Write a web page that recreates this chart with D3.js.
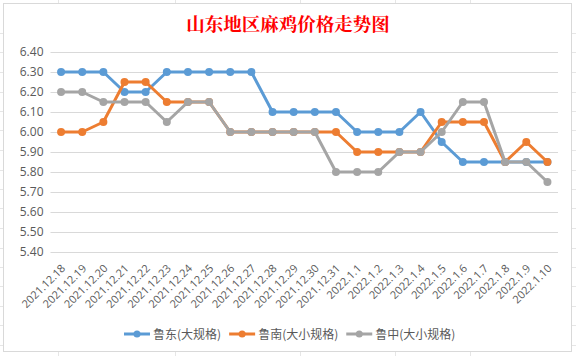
<!DOCTYPE html>
<html><head><meta charset="utf-8">
<script src="https://cdn.jsdelivr.net/npm/d3@7"></script>
<style>body{margin:0;background:#fff}svg{display:block}</style>
</head><body>
<script>
const categories = ["2021.12.18","2021.12.19","2021.12.20","2021.12.21","2021.12.22","2021.12.23","2021.12.24","2021.12.25","2021.12.26","2021.12.27","2021.12.28","2021.12.29","2021.12.30","2021.12.31","2022.1.1","2022.1.2","2022.1.3","2022.1.4","2022.1.5","2022.1.6","2022.1.7","2022.1.8","2022.1.9","2022.1.10"];
const seriesNames = ["鲁东(大规格)","鲁南(大小规格)","鲁中(大小规格)"];
const ludong = [6.30,6.30,6.30,6.20,6.20,6.30,6.30,6.30,6.30,6.30,6.10,6.10,6.10,6.10,6.00,6.00,6.00,6.10,5.95,5.85,5.85,5.85,5.85,5.85];
const lunan  = [6.00,6.00,6.05,6.25,6.25,6.15,6.15,6.15,6.00,6.00,6.00,6.00,6.00,6.00,5.90,5.90,5.90,5.90,6.05,6.05,6.05,5.85,5.95,5.85];
const luzhong= [6.20,6.20,6.15,6.15,6.15,6.05,6.15,6.15,6.00,6.00,6.00,6.00,6.00,5.80,5.80,5.80,5.90,5.90,6.00,6.15,6.15,5.85,5.85,5.75];
const yTicks = [5.40,5.50,5.60,5.70,5.80,5.90,6.00,6.10,6.20,6.30,6.40];
const colors = ["#5B9BD5","#ED7D31","#A5A5A5"];
const title = "山东地区麻鸡价格走势图";

const W=576,H=356;
const svg=d3.select("body").append("svg").attr("width",W).attr("height",H);
// spreadsheet cell lines outside chart
const cellG=svg.append("g").attr("stroke","#E6E6E6").attr("stroke-width",1);
[58,175,300,395,470].forEach(x=>cellG.append("line").attr("x1",x+0.5).attr("x2",x+0.5).attr("y1",0).attr("y2",3));
[58,175,300,395,470].forEach(x=>cellG.append("line").attr("x1",x+0.5).attr("x2",x+0.5).attr("y1",352).attr("y2",356));
[33,52,72,92,111,130,150,170,189,208,228,248,267,286,306,325,345].forEach(y=>{
  cellG.append("line").attr("x1",0).attr("x2",3).attr("y1",y+0.5).attr("y2",y+0.5);
  cellG.append("line").attr("x1",572).attr("x2",576).attr("y1",y+0.5).attr("y2",y+0.5);
});
svg.append("rect").attr("x",3.5).attr("y",3.5).attr("width",568).attr("height",348)
  .attr("fill","#fff").attr("stroke","#D9D9D9");

const x=d3.scaleBand().domain(categories).range([50.5,558]);
const y=d3.scaleLinear().domain([5.4,6.4]).range([252,52]);

svg.append("text").attr("x",288).attr("y",31).attr("text-anchor","middle")
  .attr("font-family","'Noto Serif CJK SC','Noto Sans CJK SC',serif").attr("font-weight","bold")
  .attr("font-size",18.5).attr("fill","#FF0000").text(title);

// grid
const yAxis=d3.axisLeft(y).tickValues(yTicks).tickFormat(d3.format(".2f")).tickSize(-(558-50.5)).tickPadding(7);
const ga=svg.append("g").attr("transform","translate(50.5,0)").call(yAxis);
ga.select(".domain").remove();
ga.selectAll(".tick line").attr("stroke","#D9D9D9");
ga.selectAll(".tick text").attr("fill","#595959").attr("font-size",12).attr("font-family","'Open Sans','Noto Sans',sans-serif");

// x labels
const xAxis=d3.axisBottom(x).tickSize(0).tickPadding(0);
const gx=svg.append("g").attr("transform","translate(0,252)").call(xAxis);
gx.select(".domain").remove();
gx.selectAll(".tick text").attr("fill","#595959").attr("font-size",11)
  .attr("font-family","'Open Sans','Noto Sans',sans-serif")
  .attr("text-anchor","end").attr("dy",0)
  .attr("transform","translate(5,17) rotate(-45)");

const all=[ludong,lunan,luzhong];
const line=d3.line().x((d,i)=>x(categories[i])+x.bandwidth()/2).y(d=>y(d));
all.forEach((s,k)=>{
  const g=svg.append("g");
  g.append("path").attr("d",line(s)).attr("fill","none").attr("stroke",colors[k]).attr("stroke-width",3).attr("stroke-linejoin","round");
  g.selectAll("circle").data(s).join("circle")
    .attr("cx",(d,i)=>x(categories[i])+x.bandwidth()/2).attr("cy",d=>y(d)).attr("r",4).attr("fill",colors[k]);
});

// legend
const lg=svg.append("g");
let cx=124;
seriesNames.forEach((n,k)=>{
  lg.append("line").attr("x1",cx).attr("x2",cx+26).attr("y1",334).attr("y2",334).attr("stroke",colors[k]).attr("stroke-width",3);
  lg.append("circle").attr("cx",cx+13).attr("cy",334).attr("r",3.5).attr("fill",colors[k]);
  const t=lg.append("text").attr("x",cx+29).attr("y",338.5).attr("font-size",12).attr("fill","#595959")
    .attr("font-family","'Noto Sans CJK SC',sans-serif").text(n);
  cx += 29 + t.node().getComputedTextLength() + 8;
});
</script>
</body></html>
